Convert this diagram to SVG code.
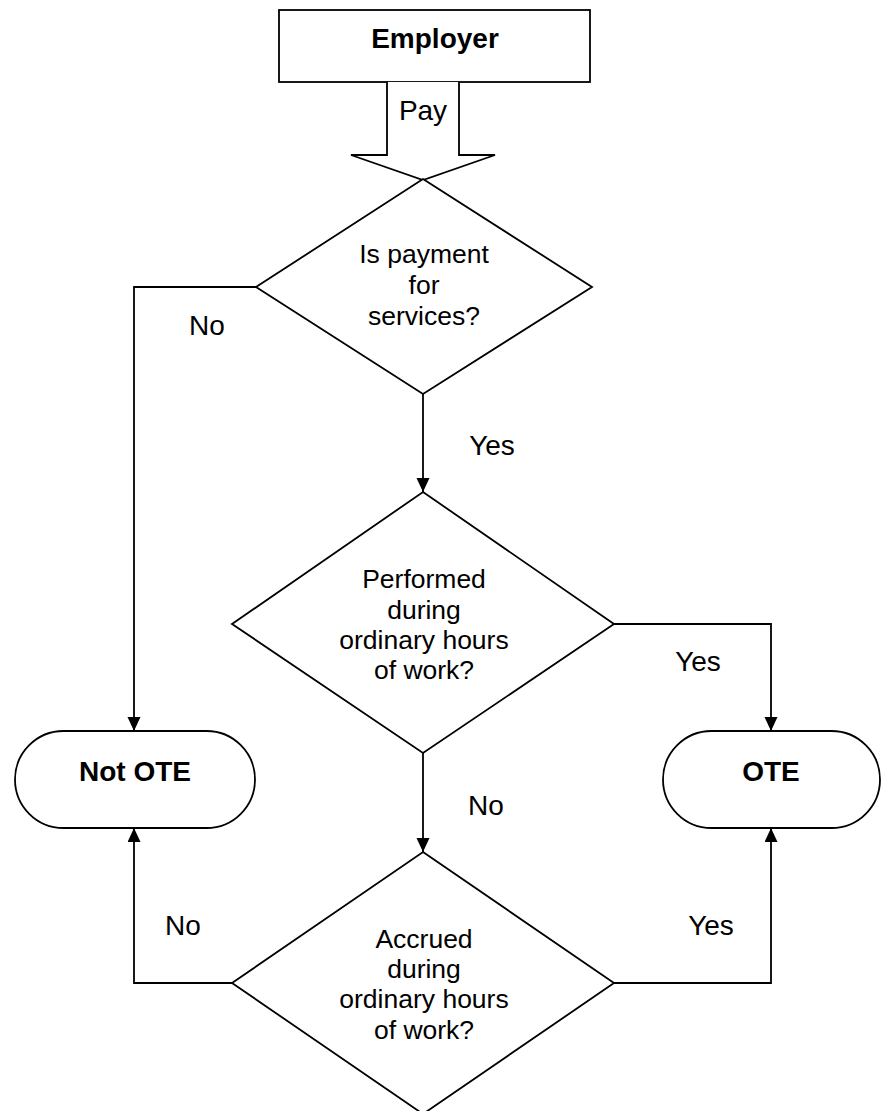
<svg xmlns="http://www.w3.org/2000/svg" width="881" height="1111" viewBox="0 0 881 1111">
<style>
.s{fill:#fff;stroke:#000;stroke-width:1.8}
.c{fill:none;stroke:#000;stroke-width:1.8}
.t{font-family:"Liberation Sans",Arial,sans-serif;font-size:26.5px;fill:#000;text-anchor:middle}
.l{font-family:"Liberation Sans",Arial,sans-serif;font-size:28px;fill:#000;text-anchor:middle}
.b{font-family:"Liberation Sans",Arial,sans-serif;font-size:28px;font-weight:bold;fill:#000;text-anchor:middle}
</style>
<defs>
<marker id="ah" markerWidth="14" markerHeight="14" refX="14" refY="6.5" orient="auto" markerUnits="userSpaceOnUse">
<path d="M0,0 L14,6.5 L0,13 Z" fill="#000"/>
</marker>
</defs>
<rect width="881" height="1111" fill="#fff"/>
<g id="employer">
<rect class="s" x="279" y="10" width="311" height="72"/>
<text class="b" x="435" y="48">Employer</text>
</g>
<g id="pay">
<path class="s" d="M387,82 L387,155 L351,155 L423,180 L495,155 L459,155 L459,82"/>
<text class="l" x="423" y="120">Pay</text>
</g>
<g id="d1">
<path class="s" d="M423,179 L592,287 L423,394 L256,287 Z"/>
<text class="t" x="424" y="263">Is payment</text>
<text class="t" x="424" y="294">for</text>
<text class="t" x="424" y="325">services?</text>
</g>
<g id="d2">
<path class="s" d="M423,492 L614,624 L423,753 L232,624 Z"/>
<text class="t" x="424" y="588">Performed</text>
<text class="t" x="424" y="619">during</text>
<text class="t" x="424" y="649">ordinary hours</text>
<text class="t" x="424" y="679">of work?</text>
</g>
<g id="d3">
<path class="s" d="M423,852 L614,983 L423,1114 L232,983 Z"/>
<text class="t" x="424" y="948">Accrued</text>
<text class="t" x="424" y="978">during</text>
<text class="t" x="424" y="1008">ordinary hours</text>
<text class="t" x="424" y="1039">of work?</text>
</g>
<g id="notote">
<rect class="s" x="15" y="731" width="240" height="97" rx="48.5" ry="48.5"/>
<text class="b" x="135" y="781">Not OTE</text>
</g>
<g id="ote">
<rect class="s" x="663" y="731" width="217" height="97" rx="48.5" ry="48.5"/>
<text class="b" x="771" y="781">OTE</text>
</g>
<g id="connectors">
<path class="c" d="M256,287 L134,287 L134,731" marker-end="url(#ah)"/>
<path class="c" d="M423,394 L423,492" marker-end="url(#ah)"/>
<path class="c" d="M614,624 L771,624 L771,731" marker-end="url(#ah)"/>
<path class="c" d="M423,753 L423,852" marker-end="url(#ah)"/>
<path class="c" d="M232,983 L134,983 L134,828" marker-end="url(#ah)"/>
<path class="c" d="M614,983 L771,983 L771,828" marker-end="url(#ah)"/>
</g>
<g id="labels">
<text class="l" x="207" y="335">No</text>
<text class="l" x="492" y="455">Yes</text>
<text class="l" x="698" y="671">Yes</text>
<text class="l" x="486" y="815">No</text>
<text class="l" x="183" y="935">No</text>
<text class="l" x="711" y="935">Yes</text>
</g>
</svg>
